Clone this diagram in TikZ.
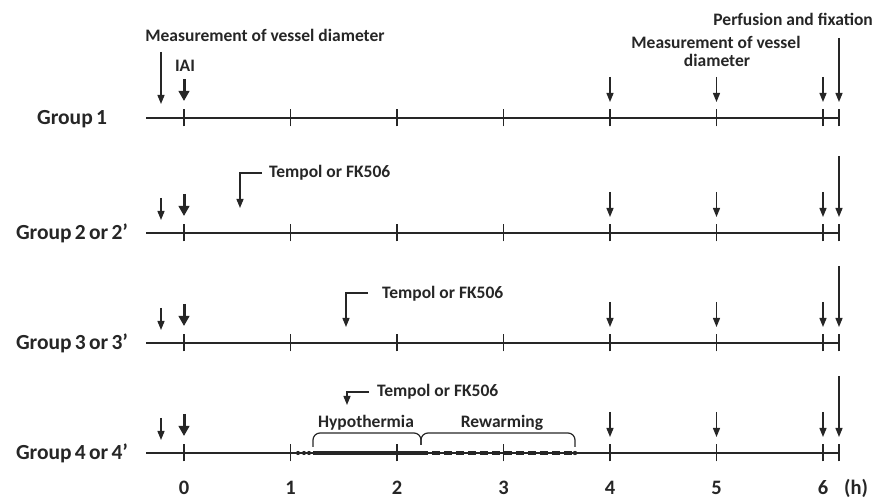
\documentclass[tikz,border=0pt]{standalone}
\usepackage{fontspec}
\setmainfont{Carlito}
\usetikzlibrary{arrows.meta}
\newcommand\mygrpfont{\bfseries\fontsize{21.5}{25}\selectfont\spaceskip=0.15em\relax}
\begin{document}
\begin{tikzpicture}[x=1pt,y=-1pt,
  tline/.style={line width=1.3pt,draw=black!85},
  tickmark/.style={line width=1.3pt,draw=black!85},
  thinarr/.style={line width=1.3pt,draw=black!85,-{Triangle[width=7pt,length=9pt]}},
  thickarr/.style={line width=3pt,draw=black!85,-{Triangle[width=10.5pt,length=10pt]}},
  lbl/.style={font=\bfseries\fontsize{17.5}{20}\selectfont,inner sep=0pt,text=black!85},
  grp/.style={font=\mygrpfont,inner sep=0pt,text=black!85},
  num/.style={font=\bfseries\fontsize{20.5}{24}\selectfont,inner sep=0pt,text=black!85},
  brc/.style={line width=1.2pt,draw=black!85,rounded corners=7pt}]
\useasboundingbox (0,0) rectangle (876,502);

% timelines
\foreach \g/\y/\name in {1/118/{Group 1},2/233/{Group 2 or 2’},3/343/{Group 3 or 3’},4/453/{Group 4 or 4’}}{
  \coordinate (s\g) at (146,\y);
  \coordinate (e\g) at (839,\y);
  \draw[tline] (s\g) -- (e\g);
  \foreach \h in {0,...,6}{
    \coordinate (t\g-\h) at ({184+106.5*\h},\y);
    \draw[tickmark] ([yshift=-8.5pt]t\g-\h) -- ([yshift=8.5pt]t\g-\h);
  }
  \draw[tickmark] ([yshift=-8.5pt]e\g) -- ([yshift=8.5pt]e\g);
  \node[grp,anchor=base] (lab\g) at (72,{\y+6.5}) {\name};
  % IAI thick arrow
  \coordinate (ia\g) at (184,{\y-39});
  \coordinate (ib\g) at (184,{\y-17});
  \draw[thickarr] (ia\g) -- (ib\g);
  % arrows at 4, 5, 6
  \foreach \h in {4,5,6}{
    \coordinate (ma\g-\h) at ({184+106.5*\h},{\y-41});
    \coordinate (mb\g-\h) at ({184+106.5*\h},{\y-16});
    \draw[thinarr] (ma\g-\h) -- (mb\g-\h);
  }
}

% measurement arrows before IAI
\coordinate (m0a1) at (161,52);
\coordinate (m0b1) at (161,104);
\draw[thinarr] (m0a1) -- (m0b1);
\foreach \g/\y in {2/233,3/343,4/453}{
  \coordinate (m0a\g) at (161,{\y-35});
  \coordinate (m0b\g) at (161,{\y-13});
  \draw[thinarr] (m0a\g) -- (m0b\g);
}

% perfusion arrows
\coordinate (pa1) at (839,38);
\coordinate (pb1) at (839,102);
\draw[thinarr] (pa1) -- (pb1);
\foreach \g/\y in {2/233,3/343,4/453}{
  \coordinate (pa\g) at (839,{\y-77});
  \coordinate (pb\g) at (839,{\y-16});
  \draw[thinarr] (pa\g) -- (pb\g);
}

% top texts
\node[lbl,anchor=base] (meas1) at (265,42) {Measurement of vessel diameter};
\node[lbl,anchor=base] (iai) at (185,72) {IAI};
\node[lbl,anchor=base east] (perf) at (873,26) {Perfusion and fixation};
\node[lbl,anchor=base] (meas2) at (716,49) {Measurement of vessel};
\node[lbl,anchor=base] (meas3) at (717,67) {diameter};

% Tempol arrows
\node[lbl,anchor=base west] (tp2) at (269,178) {Tempol or FK506};
\coordinate (tq2) at (262,173);
\coordinate (tr2) at (240,208);
\draw[thinarr] (tq2) -| (tr2);

\node[lbl,anchor=base west] (tp3) at (382,299) {Tempol or FK506};
\coordinate (tq3) at (368,293);
\coordinate (tr3) at (346,327);
\draw[thinarr] (tq3) -| (tr3);

\node[lbl,anchor=base west] (tp4) at (377,397) {Tempol or FK506};
\coordinate (tq4) at (369,392);
\coordinate (tr4) at (347,405);
\draw[thinarr] (tq4) -| (tr4);

% group 4 hypothermia / rewarming
\foreach \x in {298,304,309}{
  \fill[black!85] (\x,453) circle (2.1pt);
}
\coordinate (hy0) at (313,453);
\coordinate (hy1) at (420,453);
\coordinate (rw1) at (572,453);
\draw[line width=4.2pt,draw=black!85] (hy0) -- (hy1);
\draw[line width=4.2pt,draw=black!85,dash pattern=on 8pt off 4pt] (hy1) -- (rw1);
\fill[black!85] (575,453) circle (2.2pt);

\draw[brc] (313,447) -- (313,433) -- (421,433) -- (421,445);
\draw[brc] (421,445) -- (421,433) -- (575,433) -- (575,447);
\node[lbl,anchor=base] (hypo) at (366,428) {Hypothermia};
\node[lbl,anchor=base] (rew) at (502,428) {Rewarming};

% axis numbers
\foreach \h in {0,...,6}{
  \node[num,anchor=base] (n\h) at ({184+106.5*\h},494) {\h};
}
\node[num,anchor=base] (hr) at (856,494) {(h)};
\end{tikzpicture}
\end{document}
